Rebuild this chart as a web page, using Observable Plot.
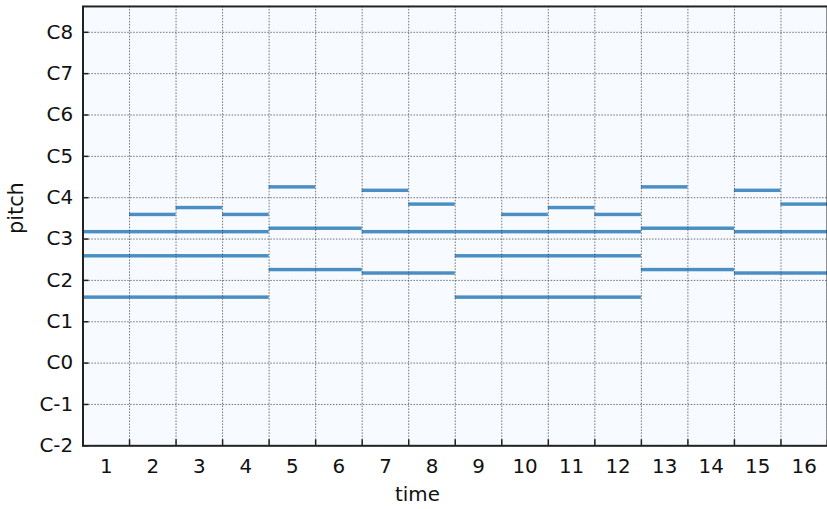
<!DOCTYPE html>
<html><head><meta charset="utf-8">
<script src="https://cdn.jsdelivr.net/npm/d3@7"></script>
<script src="https://cdn.jsdelivr.net/npm/@observablehq/plot@0.6"></script>
<style>
html,body{margin:0;padding:0;background:#fff;}
#wrap{width:827px;height:509px;overflow:hidden;}
</style></head><body><div id="wrap"></div>
<script>
// Notes read from the piano roll (time in beats, pitch as MIDI number, C-2 = 0)
const noteStart = [0, 0, 0, 1, 2, 3,   4, 4, 4, 6, 6, 6, 7,   8, 8, 8, 9, 10, 11,   12, 12, 12, 14, 14, 14, 15];
const noteEnd   = [4, 4, 4, 2, 3, 4,   6, 6, 5, 8, 8, 7, 8,   12, 12, 12, 10, 11, 12,   14, 14, 13, 16, 16, 15, 16];
const notePitch = [43, 55, 62, 67, 69, 67,   51, 63, 75, 50, 62, 74, 70,   43, 55, 62, 67, 69, 67,   51, 63, 75, 50, 62, 74, 70];

const yTickValues = [0, 12, 24, 36, 48, 60, 72, 84, 96, 108, 120];
const yTickLabels = ["C-2", "C-1", "C0", "C1", "C2", "C3", "C4", "C5", "C6", "C7", "C8"];
const xGridValues = [0, 1, 2, 3, 4, 5, 6, 7, 8, 9, 10, 11, 12, 13, 14, 15, 16];
const xTickLabels = ["1","2","3","4","5","6","7","8","9","10","11","12","13","14","15","16"];
const xTickPositions = xTickLabels.map((_, i) => i + 0.5);

const notes = noteStart.map((s, i) => ({start: s, end: noteEnd[i], pitch: notePitch[i]}));

const font = "DejaVu Sans, sans-serif";
const gridStyle = {stroke: "#444", strokeOpacity: 0.85, strokeWidth: 0.9, strokeDasharray: "1.5,1.5"};

const chart = Plot.plot({
  width: 832,
  height: 509,
  marginLeft: 83,
  marginRight: 0,
  marginTop: 6,
  marginBottom: 61,
  style: {fontFamily: font, color: "#111", background: "#fff"},
  x: {domain: [0, 16], label: null},
  y: {domain: [0, 127.5], label: null},
  marks: [
    Plot.frame({fill: "#f7fbff"}),
    Plot.rect(notes, {x1: "start", x2: "end", y1: d => d.pitch - 0.5, y2: d => d.pitch + 0.5, fill: "#4a8ec4"}),
    Plot.gridX(xGridValues, gridStyle),
    Plot.gridY(yTickValues, gridStyle),
    Plot.frame({stroke: "#222", strokeWidth: 2}),
    // inward tick marks
    Plot.axisX(xGridValues, {tickSize: 6, dy: -6, tickFormat: () => "", stroke: "#222", strokeWidth: 1.5, label: null}),
    Plot.axisY(yTickValues, {tickSize: 6, dx: 6, tickFormat: () => "", stroke: "#222", strokeWidth: 1.5, label: null}),
    // tick labels
    Plot.axisX(xTickPositions, {tickSize: 0, tickPadding: 13, fontSize: 20, fill: "#111",
      tickFormat: d => xTickLabels[xTickPositions.indexOf(d)], label: null}),
    Plot.axisY(yTickValues, {tickSize: 0, tickPadding: 10, fontSize: 20, fill: "#111",
      tickFormat: d => yTickLabels[yTickValues.indexOf(d)], label: null}),
    // axis titles
    Plot.text(["time"], {text: d => d, frameAnchor: "bottom", dx: -38, dy: 49, lineAnchor: "middle", fontSize: 20, fill: "#111"}),
    Plot.text(["pitch"], {text: d => d, frameAnchor: "left", rotate: -90, dx: -67, dy: 8, lineAnchor: "middle", fontSize: 21, fill: "#111"})
  ]
});
document.getElementById("wrap").appendChild(chart);
</script></body></html>
